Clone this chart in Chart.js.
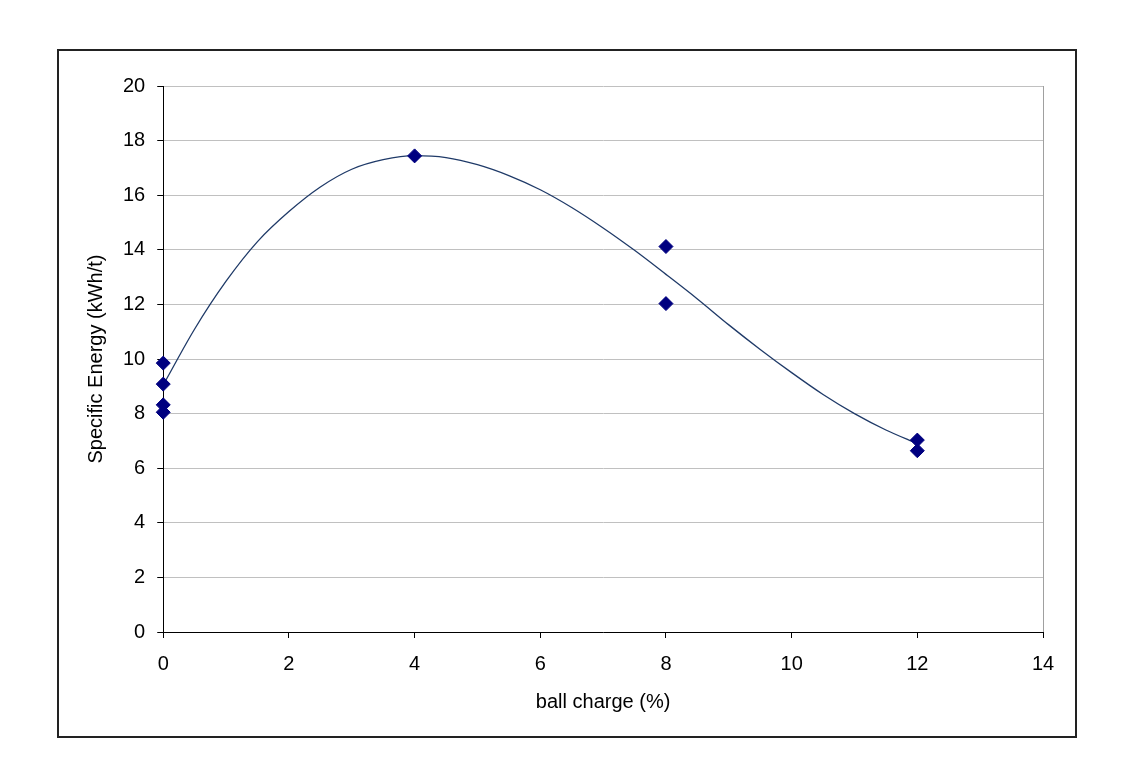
<!DOCTYPE html>
<html>
<head>
<meta charset="utf-8">
<script src="https://cdn.jsdelivr.net/npm/chart.js@4/dist/chart.umd.min.js"></script>
<style>
  html, body { margin: 0; padding: 0; background: #fff; }
  #wrap { width: 1125px; height: 777px; position: relative; }
</style>
</head>
<body>
<div id="wrap"><canvas id="c" width="1125" height="777"></canvas></div>
<script>
// Measured points (ball charge %, specific energy kWh/t)
const pointX = [0, 0, 0, 0, 4, 8, 8, 12, 12];
const pointY = [9.85, 9.08, 8.32, 8.05, 17.44, 14.12, 12.03, 7.03, 6.64];

// Trend curve
const trendX = [0, 0.5, 1, 1.5, 2, 2.5, 3, 3.5, 4, 4.5, 5, 5.5, 6, 6.5, 7, 7.5, 8, 8.5, 9, 9.5, 10, 10.5, 11, 11.5, 12];
const trendY = [9.05, 11.1, 12.85, 14.3, 15.4, 16.3, 16.95, 17.3, 17.45, 17.38, 17.12, 16.72, 16.2, 15.55, 14.8, 13.98, 13.1, 12.2, 11.25, 10.35, 9.5, 8.7, 8.0, 7.4, 6.9];

const xTitle = 'ball charge (%)';
const yTitle = 'Specific Energy (kWh/t)';
const xMin = 0, xMax = 14, xStep = 2;
const yMin = 0, yMax = 20, yStep = 2;

const FONT = 'Liberation Sans, Arial, sans-serif';

const framePlugin = {
  id: 'frame',
  beforeDraw(chart) {
    const ctx = chart.ctx;
    ctx.save();
    ctx.fillStyle = '#fff';
    ctx.fillRect(0, 0, chart.width, chart.height);
    ctx.strokeStyle = '#222';
    ctx.lineWidth = 2;
    ctx.strokeRect(58, 50, 1018, 687);
    ctx.restore();
  },
  beforeDatasetsDraw(chart) {
    const a = chart.chartArea, ctx = chart.ctx;
    ctx.save();
    ctx.strokeStyle = '#a0a0a0';
    ctx.lineWidth = 1;
    ctx.beginPath();
    ctx.moveTo(Math.round(a.right) + 0.5, a.top);
    ctx.lineTo(Math.round(a.right) + 0.5, a.bottom);
    ctx.stroke();
    ctx.restore();
  }
};

new Chart(document.getElementById('c'), {
  type: 'scatter',
  data: {
    datasets: [
      {
        label: 'data',
        data: pointX.map((x, i) => ({ x: x, y: pointY[i] })),
        pointStyle: 'rectRot',
        pointRadius: 7,
        pointBackgroundColor: '#000080',
        pointBorderColor: '#000080',
        pointBorderWidth: 1,
        showLine: false,
        clip: false,
        order: 0
      },
      {
        label: 'trend',
        data: trendX.map((x, i) => ({ x: x, y: trendY[i] })),
        showLine: true,
        pointRadius: 0,
        borderColor: '#1f3a68',
        borderWidth: 1.3,
        tension: 0.4,
        cubicInterpolationMode: 'monotone',
        clip: false,
        order: 1
      }
    ]
  },
  options: {
    responsive: false,
    animation: false,
    devicePixelRatio: 1,
    layout: { padding: { left: 80, right: 82, top: 86, bottom: 59 } },
    plugins: {
      legend: { display: false },
      tooltip: { enabled: false }
    },
    scales: {
      x: {
        type: 'linear',
        min: xMin, max: xMax,
        ticks: { stepSize: xStep, color: '#000', font: { family: FONT, size: 20 }, padding: 14 },
        grid: { drawOnChartArea: false, tickLength: 6, tickColor: '#000', color: '#000' },
        border: { color: '#000', width: 1 },
        title: { display: true, text: xTitle, color: '#000', font: { family: FONT, size: 20 }, padding: { top: 0, bottom: 4 } }
      },
      y: {
        type: 'linear',
        min: yMin, max: yMax,
        ticks: { stepSize: yStep, color: '#000', font: { family: FONT, size: 20 }, padding: 12 },
        grid: { color: '#c0c0c0', tickLength: 6, tickColor: '#000', lineWidth: 1 },
        border: { color: '#000', width: 1 },
        title: { display: true, text: yTitle, color: '#000', font: { family: FONT, size: 20 }, padding: { top: 4, bottom: 3 } }
      }
    }
  },
  plugins: [framePlugin]
});
</script>
</body>
</html>
